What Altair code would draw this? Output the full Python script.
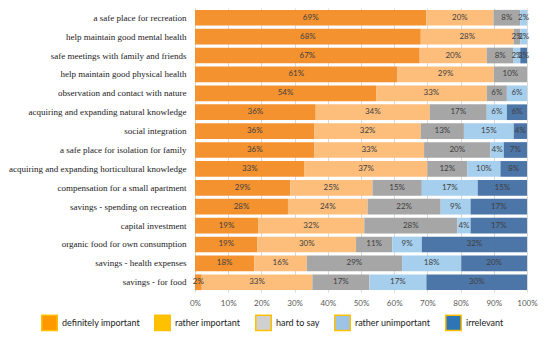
import altair as alt
import pandas as pd

items = [
    "a safe place for recreation",
    "help maintain good mental health",
    "safe meetings with family and friends",
    "help maintain good physical health",
    "observation and contact with nature",
    "acquiring and expanding natural knowledge",
    "social integration",
    "a safe place for isolation for family",
    "acquiring and expanding horticultural knowledge",
    "compensation for a small apartment",
    "savings - spending on recreation",
    "capital investment",
    "organic food for own consumption",
    "savings - health expenses",
    "savings - for food",
]
categories = ["definitely important", "rather important", "hard to say",
              "rather unimportant", "irrelevant"]

definitely_important = [69, 68, 67, 61, 54, 36, 36, 36, 33, 29, 28, 19, 19, 18, 2]
rather_important = [20, 28, 20, 29, 33, 34, 32, 33, 37, 25, 24, 32, 30, 16, 33]
hard_to_say = [8, 2, 8, 10, 6, 17, 13, 20, 12, 15, 22, 28, 11, 29, 17]
rather_unimportant = [2, 2, 2, 0, 6, 6, 15, 4, 10, 17, 9, 4, 9, 18, 17]
irrelevant = [0, 0, 2, 0, 0, 6, 4, 7, 8, 15, 17, 17, 32, 20, 30]

bar_colors = ["#F4922F", "#FDBE7C", "#A6A6A6", "#A6CFEE", "#4C75A8"]
legend_fill = ["#FF9900", "#FFC000", "#D0D0D0", "#9DC3E6", "#2E75B6"]
x_ticks = [0, 0.1, 0.2, 0.3, 0.4, 0.5, 0.6, 0.7, 0.8, 0.9, 1.0]

series = [definitely_important, rather_important, hard_to_say,
          rather_unimportant, irrelevant]
rows = []
for r, (cat, vals) in enumerate(zip(categories, series)):
    for item, v in zip(items, vals):
        rows.append({"item": item, "category": cat, "rank": r, "value": v})
df = pd.DataFrame(rows)
legend_df = pd.DataFrame({"category": categories})

base = (
    alt.Chart(df)
    .transform_filter("datum.value > 0")
    .transform_joinaggregate(total="sum(value)", groupby=["item"])
    .transform_calculate(pct="datum.value / datum.total")
    .transform_stack(stack="pct", groupby=["item"],
                     sort=[alt.SortField("rank", order="ascending")],
                     as_=["x0", "x1"])
    .transform_calculate(mid="(datum.x0 + datum.x1) / 2",
                         label="datum.value + '%'")
)

y_enc = alt.Y(
    "item:N", sort=items, title=None,
    scale=alt.Scale(paddingInner=0.17, paddingOuter=0.1),
    axis=alt.Axis(labelFont="Liberation Serif", labelFontSize=9,
                  labelColor="#1a1a1a", ticks=False, domain=False,
                  labelPadding=9, labelLimit=400),
)

x_axis = alt.Axis(format=".0%", values=x_ticks,
                  labelFont="Lato", labelFontSize=8,
                  labelColor="#595959", grid=True, labelOverlap=False,
                  labelFlush=False,
                  gridColor="#D9D9D9", domain=False, ticks=False,
                  labelPadding=7)
x_scale = alt.Scale(domain=[0, 1], nice=False)

bars = base.mark_bar().encode(
    y=y_enc,
    x=alt.X("x0:Q", title=None, scale=x_scale, axis=x_axis),
    x2="x1:Q",
    color=alt.Color("category:N",
                    scale=alt.Scale(domain=categories, range=bar_colors),
                    legend=None),
)

text = base.mark_text(font="Lato", fontSize=8, color="#404040").encode(
    y=y_enc,
    x=alt.X("mid:Q", title=None, scale=x_scale, axis=x_axis),
    text="label:N",
)

legend_layer = (
    alt.Chart(legend_df)
    .mark_square(opacity=0)
    .encode(
        color=alt.Color("category:N",
                        scale=alt.Scale(domain=categories, range=legend_fill),
                        legend=alt.Legend(orient="none", legendX=-154, legendY=306,
                                          direction="horizontal", columns=5,
                                          title=None, symbolType="square",
                                          symbolSize=240, symbolOpacity=1,
                                          symbolStrokeColor="#FFC000",
                                          symbolStrokeWidth=1.5,
                                          labelFont="Lato", labelFontSize=9,
                                          labelColor="#222222",
                                          columnPadding=11, labelOffset=4)),
    )
)

chart = (
    alt.layer(bars, text, legend_layer)
    .resolve_scale(color="independent")
    .properties(width=332, height=284,
                padding={"left": 0, "top": 0, "right": 4, "bottom": 22})
    .configure_view(stroke=None)
)

chart.save("out.html", embed_options={"renderer": "svg", "actions": False})
